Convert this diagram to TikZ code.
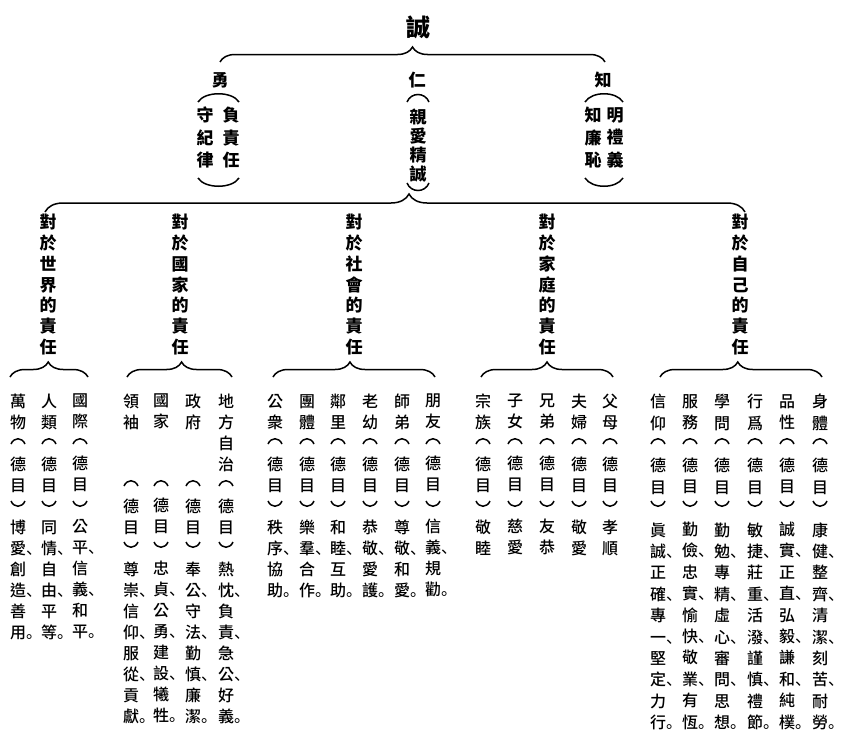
\documentclass[tikz,border=0pt]{standalone}
\usepackage{fontspec}
\usetikzlibrary{positioning,decorations.pathreplacing}
\newfontfamily\cjk{Noto Sans CJK TC}
\newfontfamily\cjkm{Noto Sans CJK TC Medium}
\newfontfamily\cjkp{Noto Sans CJK SC}
\newcommand{\dun}{\rlap{\cjkp 、}}
\newcommand{\ju}{\rlap{\cjkp 。}}
\newcommand{\gap}{\mbox{}}

\begin{document}
\begin{tikzpicture}[x=1pt,y=-1pt, every node/.style={inner sep=0pt},
    lvl1/.style={font=\cjk\bfseries\fontsize{24pt}{28pt}\selectfont},
    lvl2/.style={font=\cjk\bfseries\fontsize{17pt}{22.5pt}\selectfont,align=center,anchor=north},
    lvl3/.style={font=\cjk\bfseries\fontsize{17pt}{20.8pt}\selectfont,align=center,anchor=north},
    lvl4/.style={font=\cjkm\fontsize{16pt}{21pt}\selectfont,align=center,anchor=north},
    lvl4z/.style={lvl4,font=\cjkm\fontsize{16pt}{21.4pt}\selectfont},
    brc/.style={decorate,decoration={brace,amplitude=15pt,aspect=#1},line width=1.5pt},
    brc/.default=0.5,
    prn/.style={line width=1.5pt},
    popen/.pic={\draw[prn] (-7,3) .. controls (-4,-4) and (4,-4) .. (7,3);},
    pclose/.pic={\draw[prn] (-7,-3) .. controls (-4,4) and (4,4) .. (7,-3);}]
  \useasboundingbox (0,0) rectangle (850,736);

  % top
  \node[lvl1] (cheng) at (418,27) {誠};
  \coordinate (t1) at (220,62);
  \coordinate (t2) at (605,62);
  \draw[brc] (t1) -- (t2);

  % 勇 仁 知
  \node[lvl2] (yong) at (220,72) {勇};
  \node[lvl2] (yong1) at (231,107) {負\\責\\任};
  \node[lvl2] (yong2) at (205,107) {守\\紀\\律};
  \draw[prn] (198,102) .. controls (205,91) and (232,91) .. (239,102);
  \draw[prn] (198,178) .. controls (205,189) and (232,189) .. (239,178);

  \node[lvl2] (ren) at (417,72) {仁};
  \node[lvl2,font=\cjk\bfseries\fontsize{17pt}{19pt}\selectfont] (ren1) at (418,109) {親\\愛\\精\\誠};
  \draw[prn] (407,102) .. controls (411,92) and (425,92) .. (429,102);
  \draw[prn] (407,183) .. controls (411,193) and (425,193) .. (429,183);

  \node[lvl2] (zhi) at (603,72) {知};
  \node[lvl2] (zhi1) at (615,107) {明\\禮\\義};
  \node[lvl2] (zhi2) at (593,107) {知\\廉\\恥};
  \draw[prn] (585,102) .. controls (592,91) and (616,91) .. (623,102);
  \draw[prn] (585,178) .. controls (592,189) and (616,189) .. (623,178);

  \coordinate (m1) at (45,212);
  \coordinate (m2) at (745,212);
  \draw[brc=0.52,decoration={amplitude=18pt}] (m1) -- (m2);

  % five duties
  \node[lvl3] (d1) at (48,214) {對\\於\\世\\界\\的\\責\\任};
  \node[lvl3] (d2) at (180,214) {對\\於\\國\\家\\的\\責\\任};
  \node[lvl3] (d3) at (354,214) {對\\於\\社\\會\\的\\責\\任};
  \node[lvl3] (d4) at (547,214) {對\\於\\家\\庭\\的\\責\\任};
  \node[lvl3] (d5) at (740,214) {對\\於\\自\\己\\的\\責\\任};

  \draw[brc=0.49] (10,377) -- (88,377);
  \draw[brc=0.52] (127,377) -- (232,377);
  \draw[brc=0.475] (273,377) -- (435,377);
  \draw[brc=0.5] (481,377) -- (613,377);
  \draw[brc=0.48] (660,377) -- (822,377);

  % world
  \node[lvl4] (w1) at (80,394) {國\\際\\\gap\\德\\目\\\gap\\公\\平\dun\\信\\義\dun\\和\\平\ju};
  \node[lvl4] (w2) at (49,394) {人\\類\\\gap\\德\\目\\\gap\\同\\情\dun\\自\\由\dun\\平\\等\ju};
  \node[lvl4] (w3) at (18,394) {萬\\物\\\gap\\德\\目\\\gap\\博\\愛\dun\\創\\造\dun\\善\\用\ju};

  % nation
  \node[lvl4] (n1) at (226,394) {地\\方\\自\\治\\\gap\\德\\目\\\gap\\熱\\忱\dun\\負\\責\dun\\急\\公\dun\\好\\義\ju};
  \node[lvl4] (n2) at (193,394) {政\\府\\\gap\\\gap\\\gap\\德\\目\\\gap\\奉\\公\dun\\守\\法\dun\\勤\\慎\dun\\廉\\潔\ju};
  \node[lvl4] (n3) at (161,394) {國\\家\\\gap\\\gap\\\gap\\德\\目\\\gap\\忠\\貞\dun\\公\\勇\dun\\建\\設\dun\\犧\\牲\ju};
  \node[lvl4] (n4) at (131,394) {領\\袖\\\gap\\\gap\\\gap\\德\\目\\\gap\\尊\\崇\dun\\信\\仰\dun\\服\\從\dun\\貢\\獻\ju};

  % society
  \node[lvl4] (s1) at (433,394) {朋\\友\\\gap\\德\\目\\\gap\\信\\義\dun\\規\\勸\ju};
  \node[lvl4] (s2) at (402,394) {師\\弟\\\gap\\德\\目\\\gap\\尊\\敬\dun\\和\\愛\ju};
  \node[lvl4] (s3) at (370,394) {老\\幼\\\gap\\德\\目\\\gap\\恭\\敬\dun\\愛\\護\ju};
  \node[lvl4] (s4) at (338,394) {鄰\\里\\\gap\\德\\目\\\gap\\和\\睦\dun\\互\\助\ju};
  \node[lvl4] (s5) at (307,394) {團\\體\\\gap\\德\\目\\\gap\\樂\\羣\dun\\合\\作\ju};
  \node[lvl4] (s6) at (275,394) {公\\衆\\\gap\\德\\目\\\gap\\秩\\序\dun\\協\\助\ju};

  % family
  \node[lvl4] (f1) at (610,394) {父\\母\\\gap\\德\\目\\\gap\\孝\\順};
  \node[lvl4] (f2) at (579,394) {夫\\婦\\\gap\\德\\目\\\gap\\敬\\愛};
  \node[lvl4] (f3) at (547,394) {兄\\弟\\\gap\\德\\目\\\gap\\友\\恭};
  \node[lvl4] (f4) at (515,394) {子\\女\\\gap\\德\\目\\\gap\\慈\\愛};
  \node[lvl4] (f5) at (483,394) {宗\\族\\\gap\\德\\目\\\gap\\敬\\睦};

  % self
  \node[lvl4z] (z1) at (820,394) {身\\體\\\gap\\德\\目\\\gap\\康\\健\dun\\整\\齊\dun\\清\\潔\dun\\刻\\苦\dun\\耐\\勞\ju};
  \node[lvl4z] (z2) at (787,394) {品\\性\\\gap\\德\\目\\\gap\\誠\\實\dun\\正\\直\dun\\弘\\毅\dun\\謙\\和\dun\\純\\樸\ju};
  \node[lvl4z] (z3) at (755,394) {行\\爲\\\gap\\德\\目\\\gap\\敏\\捷\dun\\莊\\重\dun\\活\\潑\dun\\謹\\慎\dun\\禮\\節\ju};
  \node[lvl4z] (z4) at (722,394) {學\\問\\\gap\\德\\目\\\gap\\勤\\勉\dun\\專\\精\dun\\虛\\心\dun\\審\\問\dun\\思\\想\ju};
  \node[lvl4z] (z5) at (690,394) {服\\務\\\gap\\德\\目\\\gap\\勤\\儉\dun\\忠\\實\dun\\愉\\快\dun\\敬\\業\dun\\有\\恆\ju};
  \node[lvl4z] (z6) at (658,394) {信\\仰\\\gap\\德\\目\\\gap\\眞\\誠\dun\\正\\確\dun\\專\\一\dun\\堅\\定\dun\\力\\行\ju};

  % brackets round 德目
  \foreach \c in {w1,w2,w3,s1,s2,s3,s4,s5,s6,f1,f2,f3,f4,f5,z1,z2,z3,z4,z5,z6} {
    \pic at ([shift={(0,47)}]\c.north) {popen};
    \pic at ([shift={(0,110)}]\c.north) {pclose};
  }
  \foreach \c in {n1,n2,n3,n4} {
    \pic at ([shift={(0,89)}]\c.north) {popen};
    \pic at ([shift={(0,151)}]\c.north) {pclose};
  }
\end{tikzpicture}
\end{document}
